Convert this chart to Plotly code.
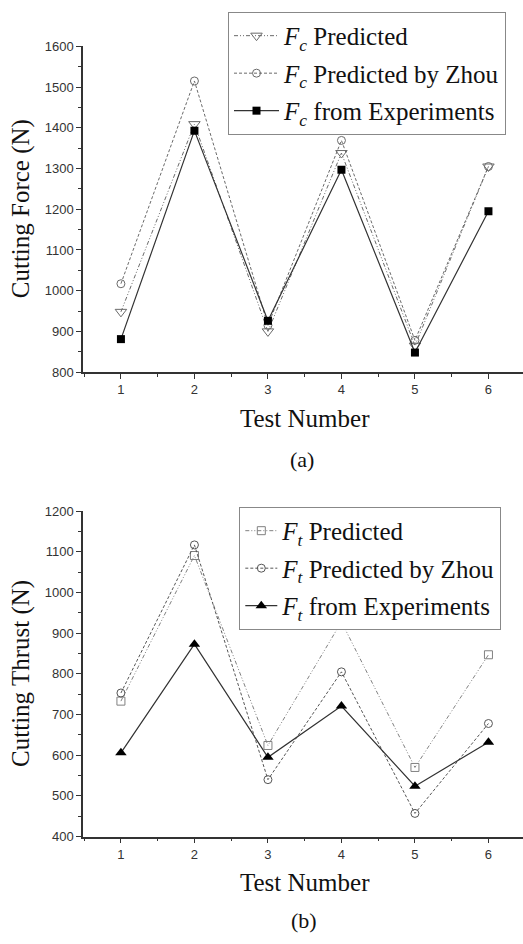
import plotly.graph_objects as go

W, H = 523, 944

tests = [1, 2, 3, 4, 5, 6]

fc_pred = [948, 1409, 900, 1338, 865, 1305]
fc_zhou = [1017, 1515, 915, 1369, 878, 1305]
fc_exp = [881, 1393, 926, 1297, 848, 1195]

ft_pred = [733, 1091, 624, 928, 570, 847]
ft_zhou = [753, 1117, 540, 805, 457, 678]
ft_exp = [606, 873, 595, 721, 524, 632]

x_ticks = [1, 2, 3, 4, 5, 6]
fc_ticks = [800, 900, 1000, 1100, 1200, 1300, 1400, 1500, 1600]
ft_ticks = [400, 500, 600, 700, 800, 900, 1000, 1100, 1200]

SERIF = "Liberation Serif, Times New Roman, serif"
SANS = "Liberation Sans, Arial, sans-serif"

DDOT = "4px,2px,1px,2px,1px,2px"
DASH = "3px,2px"

fig = go.Figure()

def px(v):
    return v / W

def py(v):
    return 1 - v / H

# top chart traces
fig.add_trace(go.Scatter(
    x=tests, y=fc_pred, mode="lines+markers", name="<i>F<sub>c</sub></i> Predicted",
    line=dict(color="#6a6a6a", width=1, dash=DDOT),
    marker=dict(symbol="triangle-down-open", size=10, color="#6a6a6a", line=dict(width=1)),
    xaxis="x", yaxis="y", legend="legend", legendgroup="a1"))
fig.add_trace(go.Scatter(
    x=tests, y=fc_zhou, mode="lines+markers", name="<i>F<sub>c</sub></i> Predicted by Zhou",
    line=dict(color="#6a6a6a", width=1, dash=DASH),
    marker=dict(symbol="circle-open", size=8, color="#6a6a6a", line=dict(width=1)),
    xaxis="x", yaxis="y", legend="legend", legendgroup="a2"))
fig.add_trace(go.Scatter(
    x=tests, y=fc_exp, mode="lines+markers", name="<i>F<sub>c</sub></i> from Experiments",
    line=dict(color="#333333", width=1.2),
    marker=dict(symbol="square", size=8, color="#000000"),
    xaxis="x", yaxis="y", legend="legend", legendgroup="a3"))

# bottom chart traces
fig.add_trace(go.Scatter(
    x=tests, y=ft_pred, mode="lines+markers", name="<i>F<sub>t</sub></i> Predicted",
    line=dict(color="#808080", width=1, dash=DDOT),
    marker=dict(symbol="square-open", size=8, color="#808080", line=dict(width=1)),
    xaxis="x2", yaxis="y2", legend="legend2", legendgroup="b1"))
fig.add_trace(go.Scatter(
    x=tests, y=ft_zhou, mode="lines+markers", name="<i>F<sub>t</sub></i> Predicted by Zhou",
    line=dict(color="#555555", width=1, dash=DASH),
    marker=dict(symbol="circle-open", size=8, color="#555555", line=dict(width=1)),
    xaxis="x2", yaxis="y2", legend="legend2", legendgroup="b2"))
fig.add_trace(go.Scatter(
    x=tests, y=ft_exp, mode="lines+markers", name="<i>F<sub>t</sub></i> from Experiments",
    line=dict(color="#333333", width=1.2),
    marker=dict(symbol="triangle-up", size=10, color="#000000"),
    xaxis="x2", yaxis="y2", legend="legend2", legendgroup="b3"))

xdom = [px(83), 1.0]
top_dom = [py(371), py(40)]
bot_dom = [py(843), py(512.3)]

axis_common = dict(
    showline=True, linecolor="#333333", linewidth=1.5, showgrid=False, zeroline=False,
    ticks="outside", ticklen=5, tickwidth=1.2, tickcolor="#333333",
    tickfont=dict(family=SANS, size=13, color="#333333"),
)

xrange = [0.484, 6.47]

legend_common = dict(
    xanchor="left", yanchor="top",
    bgcolor="white", bordercolor="#888888", borderwidth=1,
    font=dict(family=SERIF, size=25, color="#111111"),
    traceorder="grouped", tracegroupgap=2,
)

fig.update_layout(
    width=W, height=H, margin=dict(l=0, r=0, t=0, b=0),
    paper_bgcolor="white", plot_bgcolor="white",
    xaxis=dict(domain=xdom, anchor="y", range=xrange, tickvals=x_ticks,
               minor=dict(dtick=0.5, tick0=0.5, ticks="outside", ticklen=3, tickcolor="#333333"),
               **axis_common),
    yaxis=dict(domain=top_dom, anchor="x", range=[800, 1600], tickvals=fc_ticks,
               minor=dict(dtick=50, tick0=0, ticks="outside", ticklen=3, tickcolor="#333333"),
               **axis_common),
    xaxis2=dict(domain=xdom, anchor="y2", range=xrange, tickvals=x_ticks,
                minor=dict(dtick=0.5, tick0=0.5, ticks="outside", ticklen=3, tickcolor="#333333"),
                **axis_common),
    yaxis2=dict(domain=bot_dom, anchor="x2", range=[400, 1200], tickvals=ft_ticks,
                minor=dict(dtick=50, tick0=0, ticks="outside", ticklen=3, tickcolor="#333333"),
                **axis_common),
    legend=dict(x=px(228), y=py(5), itemwidth=45, **legend_common),
    legend2=dict(x=px(239.3), y=py(508), itemwidth=32, **legend_common),
    showlegend=True,
)

ann = [
    ("Test Number", 305, 418, 0, 25),
    ("(a)", 302, 460, 0, 22),
    ("Test Number", 305, 890, 0, 25),
    ("(b)", 304, 928, 0, 22),
    ("Cutting Force (N)", 21, 205.5, -90, 25),
    ("Cutting Thrust (N)", 21, 677.7, -90, 25),
]
for text, xx, yy, ang, sz in ann:
    fig.add_annotation(text=text, x=px(xx), y=py(yy), xref="paper", yref="paper",
                       xanchor="center", yanchor="middle", showarrow=False, textangle=ang,
                       font=dict(family=SERIF, size=sz, color="#111111"))

fig.write_html("out.html")
